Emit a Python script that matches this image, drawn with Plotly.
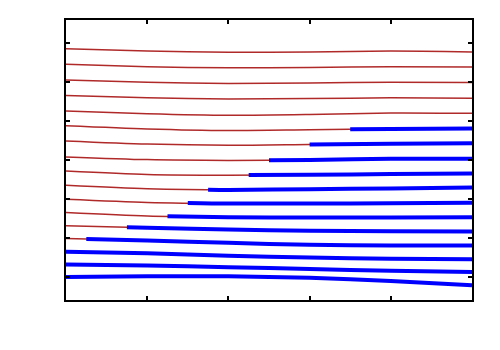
import numpy as np
import plotly.graph_objects as go

# x grid (time) at which each trajectory was read
x_grid = [0, 1, 2, 3, 4, 5]

# trajectories, top to bottom
traj_01 = [2.86, 2.80, 2.77, 2.78, 2.80, 2.78]
traj_02 = [2.46, 2.40, 2.37, 2.38, 2.40, 2.39]
traj_03 = [2.06, 2.00, 1.97, 1.98, 2.00, 1.99]
traj_04 = [1.66, 1.60, 1.57, 1.58, 1.60, 1.59]
traj_05 = [1.26, 1.19, 1.15, 1.17, 1.21, 1.20]
traj_06 = [0.88, 0.80, 0.76, 0.78, 0.80, 0.81]
traj_07 = [0.49, 0.41, 0.38, 0.40, 0.42, 0.43]
traj_08 = [0.08, 0.01, -0.01, 0.00, 0.03, 0.03]
traj_09 = [-0.28, -0.37, -0.39, -0.38, -0.36, -0.35]
traj_10 = [-0.65, -0.74, -0.77, -0.75, -0.73, -0.71]
traj_11 = [-1.01, -1.09, -1.12, -1.12, -1.11, -1.10]
traj_12 = [-1.35, -1.44, -1.47, -1.48, -1.48, -1.47]
traj_13 = [-1.69, -1.74, -1.79, -1.82, -1.83, -1.84]
traj_14 = [-2.02, -2.07, -2.13, -2.18, -2.20, -2.20]
traj_15 = [-2.36, -2.40, -2.46, -2.51, -2.54, -2.55]
traj_16 = [-2.69, -2.71, -2.76, -2.80, -2.85, -2.88]
traj_17 = [-3.01, -2.99, -2.99, -3.03, -3.11, -3.22]

trajectories = [traj_01, traj_02, traj_03, traj_04, traj_05, traj_06, traj_07,
                traj_08, traj_09, traj_10, traj_11, traj_12, traj_13, traj_14,
                traj_15, traj_16, traj_17]

# time at which each trajectory switches to the "blue" state (None = never)
switch_time = [None, None, None, None, None, 3.5, 3.0, 2.5, 2.25, 1.75, 1.5,
               1.25, 0.75, 0.25, 0, 0, 0]

x_ticks = [1, 2, 3, 4]
y_ticks = [-3, -2, -1, 0, 1, 2, 3]

RED = "#b02a2a"
BLUE = "#0000ff"

fig = go.Figure()
xg = np.array(x_grid, dtype=float)
for ys, ts in zip(trajectories, switch_time):
    yg = np.array(ys, dtype=float)
    fig.add_trace(go.Scatter(x=xg, y=yg, mode="lines",
                             line=dict(color=RED, width=1.5, shape="spline", smoothing=0.8),
                             showlegend=False, hoverinfo="skip"))
    if ts is not None:
        bx = [ts] + [v for v in x_grid if v > ts]
        by = [float(np.interp(ts, xg, yg))] + [y for v, y in zip(x_grid, ys) if v > ts]
        fig.add_trace(go.Scatter(x=bx, y=by, mode="lines",
                                 line=dict(color=BLUE, width=4, shape="spline", smoothing=0.8),
                                 showlegend=False, hoverinfo="skip"))

axis_common = dict(showline=True, linecolor="black", linewidth=2, mirror="ticks",
                   ticks="inside", ticklen=4, tickwidth=2, tickcolor="black",
                   showticklabels=False, showgrid=False, zeroline=False)

fig.update_layout(
    width=500, height=350,
    margin=dict(l=58, r=36, t=10, b=58),
    paper_bgcolor="white", plot_bgcolor="white",
    xaxis=dict(range=[0, 5], tickvals=x_ticks, **axis_common),
    yaxis=dict(range=[-3.6, 3.6], tickvals=y_ticks, **axis_common),
)

fig.write_html("out.html")
